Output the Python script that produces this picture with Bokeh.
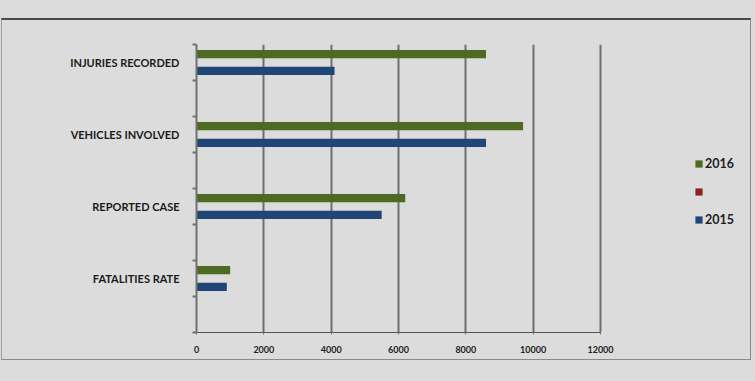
from bokeh.plotting import figure
from bokeh.layouts import column
from bokeh.models import ColumnDataSource, FixedTicker, Legend, LegendItem, Range1d
from bokeh.transform import dodge
from bokeh.embed import file_html
from bokeh.resources import INLINE

# ---- data (bottom to top) ----
categories = ["FATALITIES RATE", "REPORTED CASE", "VEHICLES INVOLVED", "INJURIES RECORDED"]
values_2016 = [1000, 6200, 9700, 8600]
values_blank = [0, 0, 0, 0]
values_2015 = [900, 5500, 8600, 4100]
x_ticks = [0, 2000, 4000, 6000, 8000, 10000, 12000]

BG = "#dcdcdc"
GREEN = "#4e6a22"
RED = "#8e1f1f"
BLUE = "#1f4677"

# layout (canvas pixels inside the bordered chart box)
W, H = 750, 342
LEFT, AXIS_W, TOP, BOTTOM = 194, 404, 24, 30
x_max = x_ticks[-1]
x_end = x_max * (W - LEFT) / AXIS_W   # frame extends under the legend

ypos = [2 * i + 1.5 for i in range(len(categories))]
src = ColumnDataSource(dict(y=ypos, v16=values_2016, vb=values_blank, v15=values_2015))

p = figure(width=W, height=H, output_backend="svg", toolbar_location=None,
           x_range=Range1d(0, x_end), y_range=Range1d(0, 2 * len(categories)),
           min_border_left=LEFT, min_border_right=0, min_border_top=TOP,
           min_border_bottom=BOTTOM, margin=(18, 0, 0, 1),
           styles={"border-left": "1px solid #a0a0a0", "border-right": "1px solid #8a8a8a",
                   "border-bottom": "1px solid #8a8a8a", "border-top": "2px solid #4a4a4a"})
p.background_fill_color = BG
p.border_fill_color = BG
p.outline_line_color = None

bh = 0.23
r16 = p.hbar(y=dodge("y", 0.235), right="v16", left=0, height=bh, source=src,
             fill_color=GREEN, line_color=None)
rb = p.hbar(y=dodge("y", 0.0), right="vb", left=0, height=bh, source=src,
            fill_color=RED, line_color=None)
r15 = p.hbar(y=dodge("y", -0.235), right="v15", left=0, height=bh, source=src,
             fill_color=BLUE, line_color=None)

# x axis
p.xaxis.ticker = FixedTicker(ticks=x_ticks)
p.xaxis.bounds = (0, x_max)
p.xaxis.axis_line_color = "#555555"
p.xaxis.axis_line_width = 1
p.xaxis.major_tick_in = 0
p.xaxis.major_tick_out = 2
p.xaxis.major_tick_line_color = "#707070"
p.xaxis.minor_tick_line_color = None
p.xaxis.major_label_standoff = 11
p.xaxis.major_label_text_font = "Lato"
p.xaxis.major_label_text_font_style = "bold"
p.xaxis.major_label_text_font_size = "9px"
p.xaxis.major_label_text_color = "#222222"

# y axis
p.yaxis.ticker = FixedTicker(ticks=ypos, minor_ticks=list(range(0, 2 * len(categories) + 1)))
p.yaxis.major_label_overrides = {y: c for y, c in zip(ypos, categories)}
p.yaxis.axis_line_color = "#707070"
p.yaxis.axis_line_width = 2
p.yaxis.major_tick_line_color = None
p.yaxis.minor_tick_line_color = "#707070"
p.yaxis.minor_tick_line_width = 2
p.yaxis.minor_tick_in = 0
p.yaxis.minor_tick_out = 4
p.yaxis.major_label_standoff = 11
p.yaxis.major_label_text_font = "Lato"
p.yaxis.major_label_text_font_style = "bold"
p.yaxis.major_label_text_font_size = "11px"
p.yaxis.major_label_text_color = "#1a1a1a"

p.xgrid.grid_line_color = "#6e6e6e"
p.xgrid.grid_line_width = 2
p.xgrid.bounds = (0, 2 * len(categories))
p.ygrid.grid_line_color = None

legend = Legend(items=[LegendItem(label="2016", renderers=[r16]),
                       LegendItem(label="", renderers=[rb]),
                       LegendItem(label="2015", renderers=[r15])],
                location=(498, 105), orientation="vertical",
                glyph_width=9, glyph_height=9, label_height=9, spacing=16,
                padding=0, margin=0, label_standoff=2,
                label_text_font="Lato", label_text_font_size="12.5px",
                label_text_font_style="bold", label_text_color="#222222",
                border_line_color=None, background_fill_alpha=0)
p.add_layout(legend, "center")

page = column(p, width=755, height=381, styles={"background-color": BG})
open("out.html", "w").write(file_html(page, INLINE))
